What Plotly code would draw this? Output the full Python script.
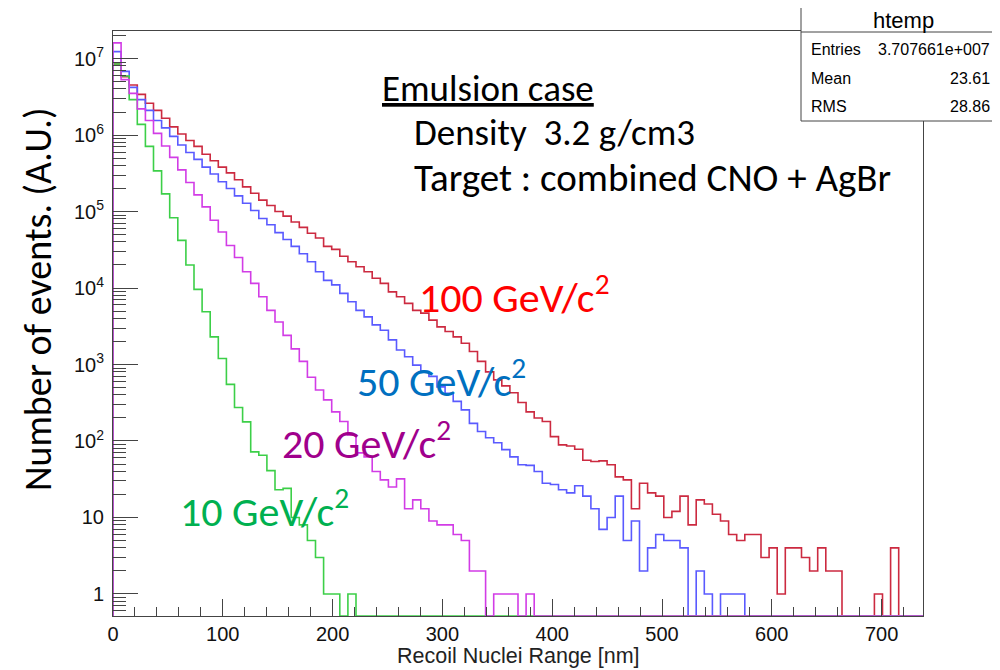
import numpy as np
import plotly.graph_objects as go

# ---------------- data (bin contents, 100 bins from 0 to ~738 nm) ----------------
n_bins = 100
x_max = 737.7

red_100gev = [8.5e6, 5.8e6, 4.5e6, 3.4e6, 2.6e6, 2.1e6, 1.66e6, 1.28e6, 1.03e6, 8.5e5,
              7.1e5, 5.6e5, 4.6e5, 3.8e5, 3.2e5, 2.6e5, 2.1e5, 1.73e5, 1.41e5, 1.2e5,
              1.0e5, 8.7e4, 7.3e4, 6.2e4, 5.2e4, 4.5e4, 3.5e4, 3.2e4, 2.6e4, 2.2e4,
              1.9e4, 1.63e4, 1.34e4, 1.15e4, 8.9e3, 7.7e3, 6.3e3, 5.1e3, 4.7e3, 3.8e3,
              3.1e3, 2.7e3, 2.3e3, 1.9e3, 1.48e3, 1.1e3, 800, 630, 525, 427,
              318, 240, 200, 180, 114, 89, 86, 78, 56, 54,
              55, 49, 34, 31, 13, 28, 21, 19, 10, 12,
              19, 8, 17, 15, 11, 9, 6, 5, 6, 6,
              3, 4, 1, 4, 4, 3, 2, 4, 2, 2,
              0, 0, 0, 0, 1, 0, 4, 0, 0, 0]

blue_50gev = [1.23e7, 6.8e6, 4.2e6, 2.9e6, 2.1e6, 1.55e6, 1.24e6, 9.6e5, 7.4e5, 5.9e5,
              4.8e5, 3.8e5, 3.1e5, 2.45e5, 2.0e5, 1.6e5, 1.28e5, 1.03e5, 8.1e4, 6.7e4,
              5.3e4, 4.3e4, 3.5e4, 2.8e4, 2.2e4, 1.63e4, 1.26e4, 1.1e4, 8.5e3, 6.6e3,
              5.1e3, 4.2e3, 3.3e3, 2.8e3, 2.1e3, 1.55e3, 1.26e3, 980, 810, 700,
              510, 420, 330, 255, 170, 133, 110, 95, 77, 62,
              49, 48, 40, 28, 27, 23, 21, 26, 19, 13,
              7, 10, 19, 5, 9, 2, 4, 6, 5, 5,
              4, 0, 2, 1, 0, 1, 1, 1, 0, 0,
              0, 0, 0, 0, 0, 0, 0, 0, 0, 0,
              0, 0, 0, 0, 0, 0, 0, 0, 0, 0]

purple_20gev = [1.6e7, 5.3e6, 3.5e6, 2.2e6, 1.55e6, 1.05e6, 7.2e5, 5.1e5, 3.5e5, 2.4e5,
                1.65e5, 1.15e5, 7.7e4, 5.4e4, 3.6e4, 2.5e4, 1.63e4, 1.15e4, 7.7e3, 5.1e3,
                3.6e3, 2.4e3, 1.6e3, 1.1e3, 680, 465, 345, 240, 180, 120,
                70, 62, 40, 31, 25, 32, 13, 17, 13, 9,
                8, 8, 6, 5, 2, 2, 0, 1, 1, 1,
                0, 1, 0, 0, 0, 0, 0, 0, 0, 0,
                0, 0, 0, 0, 0, 0, 0, 0, 0, 0,
                0, 0, 0, 0, 0, 0, 0, 0, 0, 0,
                0, 0, 0, 0, 0, 0, 0, 0, 0, 0,
                0, 0, 0, 0, 0, 0, 0, 0, 0, 0]

green_10gev = [8.5e6, 5.9e6, 2.9e6, 1.38e6, 7.1e5, 3.4e5, 1.7e5, 8.3e4, 4.2e4, 2.0e4,
               9.6e3, 4.9e3, 2.3e3, 1.2e3, 550, 274, 178, 72, 65, 41,
               23, 24, 10, 8, 5, 3, 1, 1, 0, 1,
               0, 0, 0, 0, 0, 0, 0, 0, 0, 0,
               0, 0, 0, 0, 0, 0, 0, 0, 0, 0,
               0, 0, 0, 0, 0, 0, 0, 0, 0, 0,
               0, 0, 0, 0, 0, 0, 0, 0, 0, 0,
               0, 0, 0, 0, 0, 0, 0, 0, 0, 0,
               0, 0, 0, 0, 0, 0, 0, 0, 0, 0,
               0, 0, 0, 0, 0, 0, 0, 0, 0, 0]

y_tick_vals = [1, 10, 100, 1e3, 1e4, 1e5, 1e6, 1e7]
y_tick_text = ["1", "10", "10<sup>2</sup>", "10<sup>3</sup>", "10<sup>4</sup>",
               "10<sup>5</sup>", "10<sup>6</sup>", "10<sup>7</sup>"]

stats_entries = "3.707661e+007"
stats_mean = "23.61"
stats_rms = "28.86"

# ---------------- geometry helpers (page pixels; page body has an 8px margin) ----------------
OFF = 8
W, H = 992, 662
L, R, T, B = 113, 923, 31, 616          # plot frame in page pixels
def px(x):
    return (x - L) / (R - L)
def py(y):
    return (B - y) / (B - T)

y_lo, y_hi = -0.288, 7.36
floor = 10 ** y_lo
edges = np.linspace(0, x_max, n_bins + 1)

def step(vals):
    v = np.array(vals, dtype=float)
    v = np.where(v > 0, v, floor)
    xs = np.concatenate([[0.0], edges])
    ys = np.concatenate([[floor], v, [v[-1]]])
    return xs, ys

fig = go.Figure()
series = [
    (red_100gev, "#cc2a40", "100 GeV"),
    (blue_50gev, "#5a5aff", "50 GeV"),
    (green_10gev, "#3ccf48", "10 GeV"),
    (purple_20gev, "#d23ce6", "20 GeV"),
]
for vals, col, name in series:
    xs, ys = step(vals)
    fig.add_trace(go.Scatter(x=xs, y=ys, mode="lines", line=dict(color=col, width=1.6, shape="hv"),
                             name=name, showlegend=False, hoverinfo="skip"))

minor_vals = [m * 10 ** k for k in range(-1, 8) for m in range(2, 10)
              if y_lo < np.log10(m * 10 ** k) < y_hi]

axis_col = "#444444"
tick_font = dict(family="Liberation Sans, Arial, sans-serif", size=20, color="#111111")

fig.update_layout(
    width=W, height=H,
    margin=dict(l=L - OFF, r=W - (R - OFF), t=T - OFF, b=H - (B - OFF)),
    paper_bgcolor="white", plot_bgcolor="white",
    xaxis=dict(range=[0, x_max], showgrid=False, zeroline=False,
               showline=True, linecolor=axis_col, linewidth=1, mirror=True,
               ticks="inside", ticklen=17, tickwidth=1, tickcolor=axis_col,
               tick0=0, dtick=100, tickfont=tick_font,
               minor=dict(ticks="inside", dtick=20, ticklen=9, tickwidth=1, tickcolor=axis_col, showgrid=False)),
    yaxis=dict(type="log", range=[y_lo, y_hi], showgrid=False, zeroline=False,
               showline=True, linecolor=axis_col, linewidth=1, mirror=True,
               ticks="inside", ticklen=25, tickwidth=1, tickcolor=axis_col,
               tickmode="array", tickvals=y_tick_vals, ticktext=y_tick_text, tickfont=tick_font,
               ticklabelstandoff=4,
               minor=dict(ticks="inside", tickmode="array", tickvals=minor_vals, ticklen=13,
                          tickwidth=1, tickcolor=axis_col, showgrid=False)),
)

ann = []
slide_font = "Carlito, Lato, sans-serif"
def add_text(x, y, text, size, color="black", xanchor="left", family=slide_font, angle=0):
    ann.append(dict(x=px(x), y=py(y), xref="paper", yref="paper", text=text, showarrow=False,
                    xanchor=xanchor, yanchor="middle", textangle=angle, borderpad=0,
                    font=dict(family=family, size=size, color=color)))

add_text(381, 88, "<u>Emulsion case</u>", 37)
add_text(413, 132, "Density\u00a0\u00a03.2 g/cm3", 37)
add_text(413, 177, "Target : combined CNO + AgBr", 39)
add_text(418, 294, "100 GeV/c<sup>2</sup>", 42, "#ff0000")
add_text(356, 378, "50 GeV/c<sup>2</sup>", 42, "#0070c0")
add_text(281, 440, "20 GeV/c<sup>2</sup>", 42, "#a0008c")
add_text(179, 508, "10 GeV/c<sup>2</sup>", 42, "#00b050")
add_text(38, 300, "Number of events. (A.U.)", 38, "black", xanchor="center", angle=-90)
add_text(518, 656, "Recoil Nuclei Range [nm]", 21.5, "#222222", xanchor="center",
         family="Liberation Sans, Arial, sans-serif")

# stats box
sfont = "Liberation Sans, Arial, sans-serif"
add_text(903, 20, "htemp", 22, "black", xanchor="center", family=sfont)
add_text(810, 49, "Entries", 16, "black", family=sfont)
add_text(810, 78, "Mean", 16, "black", family=sfont)
add_text(810, 107, "RMS", 16, "black", family=sfont)
for yv, txt in [(49, stats_entries), (78, stats_mean), (107, stats_rms)]:
    ann.append(dict(x=px(991), y=py(yv), xref="paper", yref="paper", text=txt, showarrow=False,
                    xanchor="right", yanchor="middle", borderpad=0,
                    font=dict(family=sfont, size=16, color="black")))

fig.update_layout(annotations=ann)
fig.update_layout(shapes=[
    dict(type="rect", xref="paper", yref="paper", x0=px(801), x1=px(1010), y0=py(121), y1=py(5),
         line=dict(color="#444444", width=1), fillcolor="white", layer="above"),
    dict(type="line", xref="paper", yref="paper", x0=px(801), x1=px(1010), y0=py(32), y1=py(32),
         line=dict(color="#444444", width=1), layer="above"),
])

fig.write_html("out.html")
